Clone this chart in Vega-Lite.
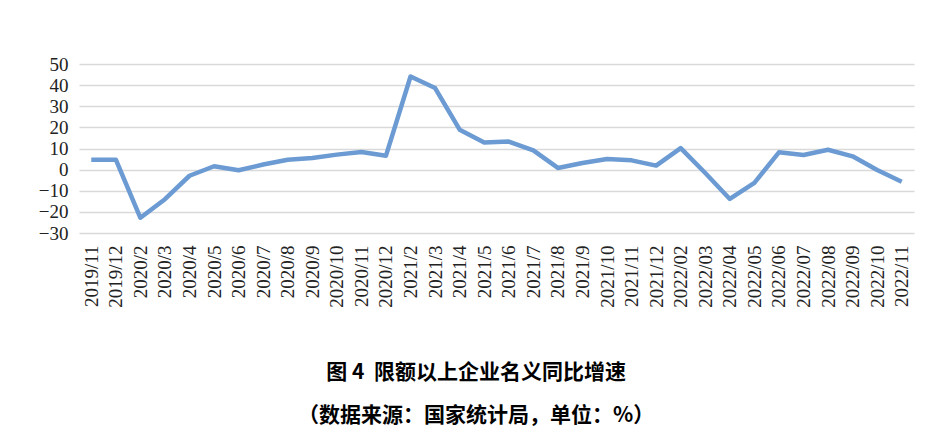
{
  "$schema": "https://vega.github.io/schema/vega-lite/v6.json",
  "autosize": {"type": "none"},
  "width": 835,
  "height": 169,
  "padding": {"left": 79, "top": 64, "right": 30, "bottom": 213},
  "background": "white",
  "title": {
    "text": "图\u00a04\u00a0\u00a0限额以上企业名义同比增速",
    "subtitle": "（数据来源：国家统计局，单位：%）",
    "orient": "bottom",
    "anchor": "middle",
    "frame": "bounds",
    "offset": 55,
    "font": "Noto Sans CJK SC",
    "fontSize": 21,
    "fontWeight": "bold",
    "color": "#000000",
    "subtitleFont": "Noto Sans CJK SC",
    "subtitleFontSize": 21,
    "subtitleFontWeight": "bold",
    "subtitleColor": "#000000",
    "subtitlePadding": 22
  },
  "data": {
    "values": [
      {"month": "2019/11", "value": 4.7},
      {"month": "2019/12", "value": 4.7},
      {"month": "2020/2", "value": -22.8},
      {"month": "2020/3", "value": -14.0},
      {"month": "2020/4", "value": -2.9},
      {"month": "2020/5", "value": 1.6},
      {"month": "2020/6", "value": -0.3},
      {"month": "2020/7", "value": 2.4},
      {"month": "2020/8", "value": 4.7},
      {"month": "2020/9", "value": 5.5},
      {"month": "2020/10", "value": 7.1},
      {"month": "2020/11", "value": 8.3},
      {"month": "2020/12", "value": 6.6},
      {"month": "2021/2", "value": 44.1},
      {"month": "2021/3", "value": 38.6},
      {"month": "2021/4", "value": 18.9},
      {"month": "2021/5", "value": 12.8},
      {"month": "2021/6", "value": 13.3},
      {"month": "2021/7", "value": 9.1},
      {"month": "2021/8", "value": 0.8},
      {"month": "2021/9", "value": 3.1},
      {"month": "2021/10", "value": 5.0},
      {"month": "2021/11", "value": 4.4},
      {"month": "2021/12", "value": 1.9},
      {"month": "2022/02", "value": 10.2},
      {"month": "2022/03", "value": -1.6},
      {"month": "2022/04", "value": -13.9},
      {"month": "2022/05", "value": -6.3},
      {"month": "2022/06", "value": 8.2},
      {"month": "2022/07", "value": 6.9},
      {"month": "2022/08", "value": 9.4},
      {"month": "2022/09", "value": 6.3},
      {"month": "2022/10", "value": -0.2},
      {"month": "2022/11", "value": -5.7}
    ]
  },
  "mark": {"type": "line", "color": "#6b9bd2", "strokeWidth": 4.5, "strokeJoin": "round"},
  "encoding": {
    "x": {
      "field": "month",
      "type": "ordinal",
      "sort": null,
      "scale": {"type": "point", "padding": 0.5},
      "axis": {
        "title": null,
        "labelAngle": -90,
        "labelFont": "'Liberation Serif', 'Times New Roman', serif",
        "labelFontSize": 19,
        "labelColor": "#222222",
        "labelPadding": 12,
        "ticks": false,
        "domain": false,
        "grid": false
      }
    },
    "y": {
      "field": "value",
      "type": "quantitative",
      "scale": {"domain": [-30, 50], "nice": false},
      "axis": {
        "title": null,
        "values": [-30, -20, -10, 0, 10, 20, 30, 40, 50],
        "labelFont": "'Liberation Serif', 'Times New Roman', serif",
        "labelFontSize": 19,
        "labelColor": "#222222",
        "labelPadding": 11,
        "ticks": false,
        "domain": false,
        "grid": true,
        "gridColor": "#d9d9d9",
        "gridWidth": 1.5
      }
    }
  },
  "config": {"view": {"stroke": null}}
}
